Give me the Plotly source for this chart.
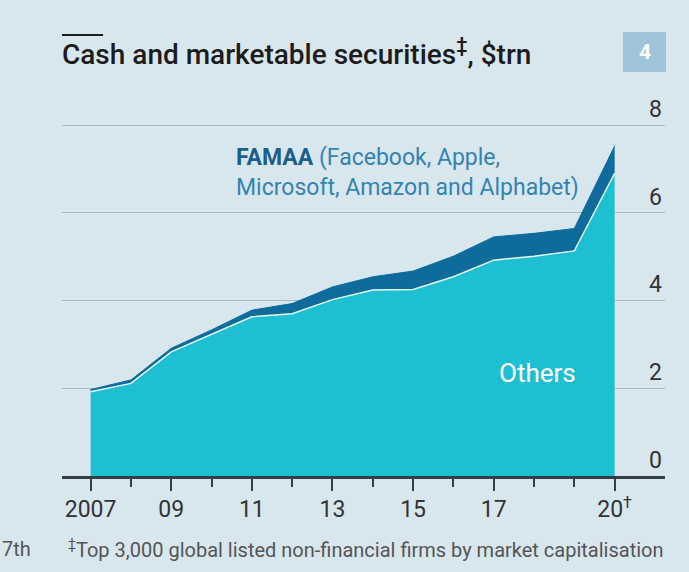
import plotly.graph_objects as go

# cash and marketable securities, $trn
years = list(range(2007, 2021))
others = [1.92, 2.11, 2.83, 3.23, 3.63, 3.70, 4.02, 4.24, 4.25, 4.54, 4.92, 5.01, 5.13, 6.90]
total = [1.97, 2.19, 2.91, 3.33, 3.78, 3.93, 4.31, 4.54, 4.67, 5.01, 5.45, 5.53, 5.64, 7.52]

x_tickvals = [2007, 2009, 2011, 2013, 2015, 2017, 2020]
x_ticktext = ["2007", "09", "11", "13", "15", "17", "20<sup>†</sup>"]
y_tickvals = [0, 2, 4, 6, 8]

BG = "#d8e6ee"
CYAN = "#1fbfd3"
DARK = "#0e6b9c"
FONT = "Roboto"

# plot area in pixels
L, R, T, B = 62, 665, 95, 476
PW, PH = R - L, B - T


def px(x):
    return (x - L) / PW


def py(y):
    return (B - y) / PH


fig = go.Figure()
fig.add_trace(go.Scatter(x=years, y=others, mode="lines", fill="tozeroy",
                         fillcolor=CYAN, line=dict(color="#e6f7fa", width=1.5),
                         hoverinfo="skip"))
fig.add_trace(go.Scatter(x=years, y=total, mode="lines", fill="tonexty",
                         fillcolor=DARK, line=dict(color=DARK, width=1),
                         hoverinfo="skip"))

fig.update_layout(
    width=689, height=572,
    paper_bgcolor=BG, plot_bgcolor=BG,
    margin=dict(l=L, r=689 - R, t=T, b=572 - B, autoexpand=False),
    showlegend=False,
    font=dict(family=FONT, color="#333333"),
    title=dict(text="Cash and marketable securities<sup>‡</sup>, $trn",
               x=62 / 689, xanchor="left", y=1 - 54 / 572, yanchor="middle",
               font=dict(size=28, color="#1c1c1c", family=FONT, weight=500)),
)

fig.update_xaxes(
    range=[2006.29, 2021.25],
    tickvals=x_tickvals, ticktext=x_ticktext,
    ticks="outside", ticklen=12, tickwidth=1.5, tickcolor="#333d44",
    minor=dict(dtick=1, tick0=2007, ticks="outside", ticklen=8,
               tickwidth=1.5, tickcolor="#333d44"),
    showline=True, linecolor="#333d44", linewidth=2.5,
    showgrid=False, zeroline=False,
    ticklabelstandoff=-1,
    tickfont=dict(size=23, color="#333333"),
)
fig.update_yaxes(
    range=[0, 8 + (125 - T) / 43.875], side="right",
    tickvals=y_tickvals, ticklabelposition="inside top",
    showgrid=True, gridcolor="#a9b7bf", gridwidth=1.3,
    zeroline=False, showline=False, ticks="",
    tickfont=dict(size=23, color="#333333"),
)

# short rule above the title
fig.add_shape(type="line", xref="paper", yref="paper",
              x0=px(62), x1=px(103), y0=py(35), y1=py(35),
              line=dict(color="#1c1c1c", width=2))
# chart number box
fig.add_shape(type="rect", xref="paper", yref="paper",
              x0=px(623), x1=px(666), y0=py(72), y1=py(32),
              fillcolor="#9fc4da", line=dict(width=0))
fig.add_annotation(xref="paper", yref="paper", x=px(644.5), y=py(52),
                   xanchor="center", yanchor="middle",
                   text="<b>4</b>", showarrow=False, font=dict(size=21, color="white"))

fig.add_annotation(xref="paper", yref="paper", x=px(234), y=py(172),
                   xanchor="left", yanchor="middle", align="left", showarrow=False,
                   text="<span style='color:#1b5e8c'><b>FAMAA</b></span> (Facebook, Apple,<br>Microsoft, Amazon and Alphabet)",
                   font=dict(size=23, color="#3583b2"))
fig.add_annotation(xref="paper", yref="paper", x=px(537), y=py(373),
                   xanchor="center", yanchor="middle",
                   text="Others", showarrow=False, font=dict(size=26, color="white"))

fig.add_annotation(xref="paper", yref="paper", x=px(0), y=py(549),
                   xanchor="left", yanchor="middle", showarrow=False,
                   text="7th", font=dict(size=20, color="#555555"))
fig.add_annotation(xref="paper", yref="paper", x=px(666), y=py(549),
                   xanchor="right", yanchor="middle", showarrow=False,
                   text="<sup>‡</sup>Top 3,000 global listed non-financial firms by market capitalisation",
                   font=dict(size=20, color="#555555"))

fig.write_html("out.html", config={"displayModeBar": False},
               post_script="document.body.style.margin='0';")
